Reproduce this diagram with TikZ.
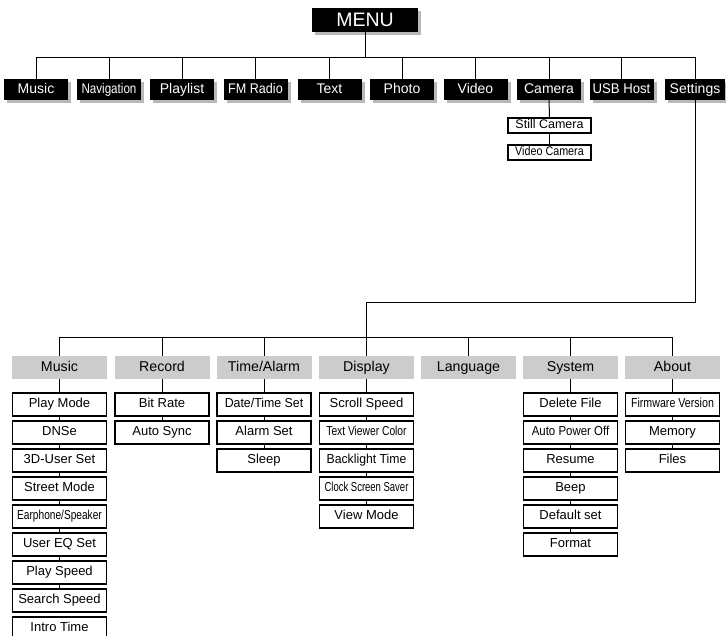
\documentclass[tikz,border=0pt]{standalone}
\usepackage{fontspec}
\setmainfont{Liberation Sans}
\usepackage{graphicx}
\usetikzlibrary{shadows}
\newcommand{\sq}[2]{\scalebox{#1}[1]{#2}}
\tikzset{
  shadowed/.style={drop shadow={shadow xshift=3pt, shadow yshift=-3pt, fill=black!28, opacity=1}},
  menubox/.style={shadowed, fill=black, text=white, minimum width=106pt, minimum height=24pt, inner sep=0pt, font=\fontsize{19.5}{22}\selectfont},
  topbox/.style={shadowed, fill=black, text=white, minimum width=64pt, minimum height=21pt, inner sep=0pt, text height=10pt, text depth=3pt, font=\fontsize{14}{16}\selectfont},
  graybox/.style={fill=black!20, minimum width=95pt, minimum height=23pt, inner sep=0pt, text height=10.2pt, text depth=3pt, font=\fontsize{14.2}{16}\selectfont},
  itembox/.style={draw, line width=1.2pt, fill=white, minimum width=94pt, minimum height=23pt, inner sep=0pt, text height=9.4pt, text depth=2.8pt, font=\fontsize{13}{15}\selectfont},
  subbox/.style={draw, line width=1.1pt, fill=white, minimum width=83pt, minimum height=15pt, inner sep=0pt, text height=9pt, text depth=2.6pt, font=\fontsize{12.5}{14}\selectfont},
  conn/.style={line width=1pt}
}
\begin{document}
\begin{tikzpicture}[x=1pt,y=-1pt]
\useasboundingbox (0,0) rectangle (726,635);
% MENU
\node[menubox] (menu) at (365,20) {MENU};
% top row
\node[topbox] (t1) at (36,89.5) {Music};
\node[topbox] (t2) at (109,89.5) {\sq{0.83}{Navigation}};
\node[topbox] (t3) at (182,89.5) {Playlist};
\node[topbox] (t4) at (255.5,89.5) {\sq{0.9}{FM Radio}};
\node[topbox] (t5) at (329.5,89.5) {Text};
\node[topbox] (t6) at (402,89.5) {Photo};
\node[topbox] (t7) at (475.5,89.5) {Video};
\node[topbox] (t8) at (549,89.5) {Camera};
\node[topbox] (t9) at (621.5,89.5) {\sq{0.94}{USB Host}};
\node[topbox, minimum width=60pt] (t10) at (695,89.5) {Settings};
\coordinate (h1) at (0,57);
\draw[conn] (menu.south) -- (menu.south |- h1);
\draw[conn] (t1.north) -- (t1.north |- h1) -- (t10.north |- h1) -- (t10.north);
\foreach \n in {t2,t3,t4,t5,t6,t7,t8,t9} \draw[conn] (\n.north) -- (\n.north |- h1);
% camera sub items
\node[subbox] (sc) at (549.5,125.5) {Still Camera};
\node[subbox] (vc) at (549.5,152.5) {\sq{0.86}{Video Camera}};
\draw[conn] (t8.south) -- (sc.north);
\draw[conn] (sc.south) -- (vc.north);
% second level
\node[graybox] (g1) at (59.5,367.5) {Music};
\node[graybox] (g2) at (162,367.5) {Record};
\node[graybox] (g3) at (264,367.5) {Time/Alarm};
\node[graybox] (g4) at (366.5,367.5) {Display};
\node[graybox] (g5) at (468.5,367.5) {Language};
\node[graybox] (g6) at (570.5,367.5) {System};
\node[graybox] (g7) at (672.5,367.5) {About};
\coordinate (j) at (366.5,302);
\coordinate (h2) at (0,337);
\draw[conn] (t10.south) |- (j) -- (g4.north);
\draw[conn] (g1.north |- h2) -- (g7.north |- h2);
\foreach \n in {g1,g2,g3,g5,g6,g7} \draw[conn] (\n.north) -- (\n.north |- h2);
% Music column
\node[itembox] (a1) at (59.5,404.5) {Play Mode};
\node[itembox] (a2) at (59.5,432.5) {DNSe};
\node[itembox] (a3) at (59.5,460.5) {3D-User Set};
\node[itembox] (a4) at (59.5,488.5) {Street Mode};
\node[itembox] (a5) at (59.5,516.5) {\sq{0.78}{Earphone/Speaker}};
\node[itembox] (a6) at (59.5,544.5) {User EQ Set};
\node[itembox] (a7) at (59.5,572.5) {Play Speed};
\node[itembox] (a8) at (59.5,600.5) {Search Speed};
\node[itembox] (a9) at (59.5,628.5) {Intro Time};
\draw[conn] (g1.south) -- (a1.north);
\foreach \p/\q in {a1/a2,a2/a3,a3/a4,a4/a5,a5/a6,a6/a7,a7/a8} \draw[conn] (\p.south) -- (\q.north);
% Record column
\node[itembox] (b1) at (162,404.5) {Bit Rate};
\node[itembox] (b2) at (162,432.5) {Auto Sync};
\draw[conn] (g2.south) -- (b1.north);
\draw[conn] (b1.south) -- (b2.north);
% Time/Alarm column
\node[itembox] (c1) at (264,404.5) {\sq{0.95}{Date/Time Set}};
\node[itembox] (c2) at (264,432.5) {Alarm Set};
\node[itembox] (c3) at (264,460.5) {Sleep};
\draw[conn] (g3.south) -- (c1.north);
\foreach \p/\q in {c1/c2,c2/c3} \draw[conn] (\p.south) -- (\q.north);
% Display column
\node[itembox] (d1) at (366.5,404.5) {Scroll Speed};
\node[itembox] (d2) at (366.5,432.5) {\sq{0.79}{Text Viewer Color}};
\node[itembox] (d3) at (366.5,460.5) {\sq{0.94}{Backlight Time}};
\node[itembox] (d4) at (366.5,488.5) {\sq{0.73}{Clock Screen Saver}};
\node[itembox] (d5) at (366.5,516.5) {View Mode};
\draw[conn] (g4.south) -- (d1.north);
\foreach \p/\q in {d1/d2,d2/d3,d3/d4,d4/d5} \draw[conn] (\p.south) -- (\q.north);
% System column
\node[itembox] (e1) at (570.5,404.5) {Delete File};
\node[itembox] (e2) at (570.5,432.5) {\sq{0.88}{Auto Power Off}};
\node[itembox] (e3) at (570.5,460.5) {Resume};
\node[itembox] (e4) at (570.5,488.5) {Beep};
\node[itembox] (e5) at (570.5,516.5) {Default set};
\node[itembox] (e6) at (570.5,544.5) {Format};
\draw[conn] (g6.south) -- (e1.north);
\foreach \p/\q in {e1/e2,e2/e3,e3/e4,e4/e5,e5/e6} \draw[conn] (\p.south) -- (\q.north);
% About column
\node[itembox] (f1) at (672.5,404.5) {\sq{0.82}{Firmware Version}};
\node[itembox] (f2) at (672.5,432.5) {Memory};
\node[itembox] (f3) at (672.5,460.5) {Files};
\draw[conn] (g7.south) -- (f1.north);
\foreach \p/\q in {f1/f2,f2/f3} \draw[conn] (\p.south) -- (\q.north);
\end{tikzpicture}
\end{document}
